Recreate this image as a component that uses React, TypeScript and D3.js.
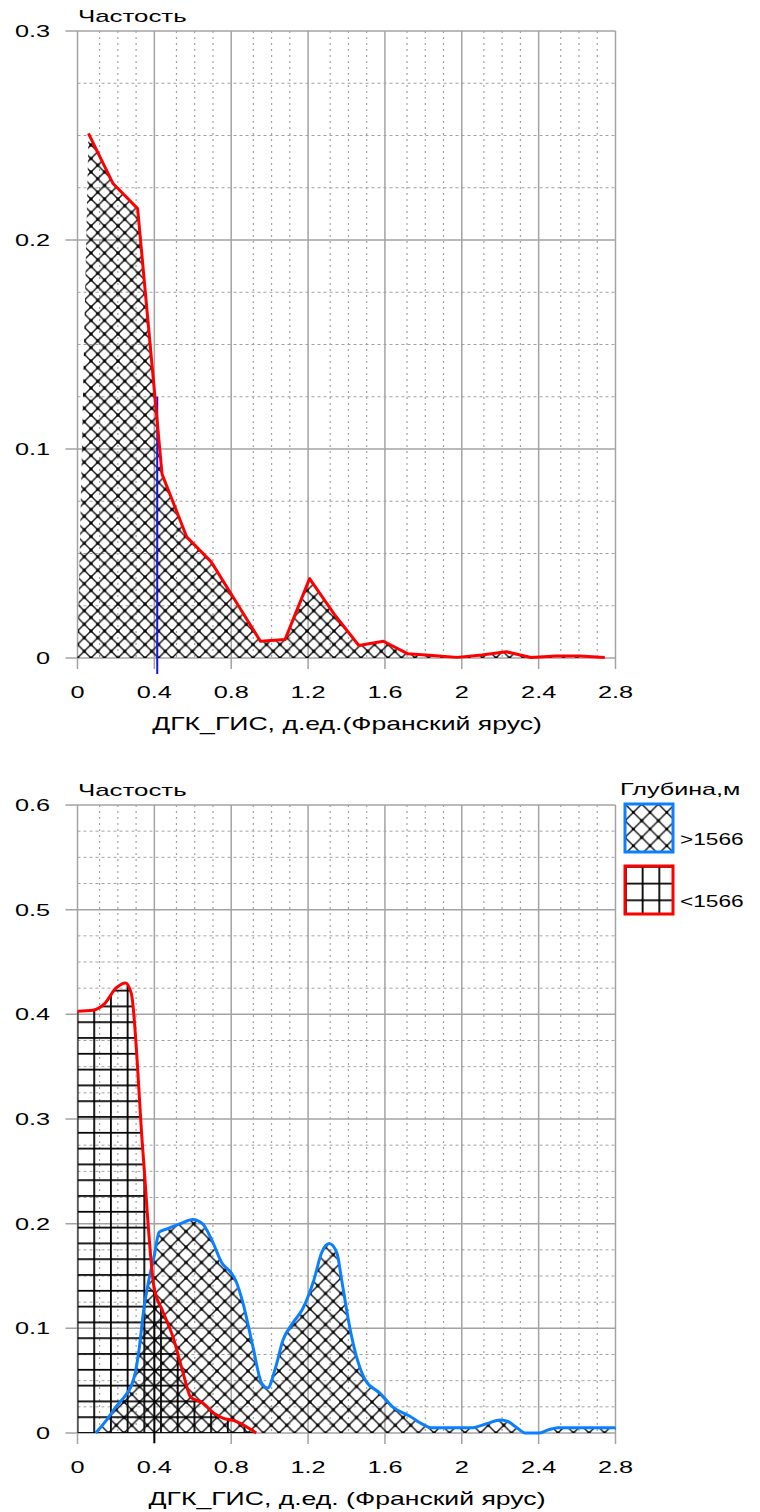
import { useEffect, useRef } from "react";
import * as d3 from "d3";

// axis ticks
const xTicks = [0, 0.4, 0.8, 1.2, 1.6, 2, 2.4, 2.8];
const xTickLabels = ["0", "0.4", "0.8", "1.2", "1.6", "2", "2.4", "2.8"];
const xMinorOffsets = [0.115, 0.21, 0.305];
const yTopTicks = [0, 0.1, 0.2, 0.3];
const yTopLabels = ["0", "0.1", "0.2", "0.3"];
const yBotTicks = [0, 0.1, 0.2, 0.3, 0.4, 0.5, 0.6];
const yBotLabels = ["0", "0.1", "0.2", "0.3", "0.4", "0.5", "0.6"];

// top chart: whole frasnian stage
const topX = [0.057, 0.185, 0.313, 0.44, 0.568, 0.696, 0.824, 0.952, 1.08, 1.208, 1.336, 1.464, 1.592, 1.72, 1.848, 1.976, 2.104, 2.232, 2.36, 2.488, 2.616, 2.744];
const topFreq = [0.251, 0.227, 0.215, 0.088, 0.058, 0.046, 0.027, 0.008, 0.0088, 0.038, 0.021, 0.006, 0.008, 0.002, 0.0012, 0.0003, 0.0014, 0.003, 0.0002, 0.001, 0.001, 0.0002];
const topCutoff = 0.415;
const topCutoffFreq = 0.125;

// bottom chart: depth > 1566 m
const deepX = [0.095, 0.15, 0.2, 0.25, 0.28, 0.3, 0.32, 0.345, 0.37, 0.4, 0.425, 0.465, 0.535, 0.6, 0.65, 0.7, 0.75, 0.8, 0.825, 0.86, 0.91, 0.96, 0.99, 1.03, 1.07, 1.12, 1.17, 1.23, 1.27, 1.31, 1.35, 1.375, 1.42, 1.46, 1.5, 1.575, 1.64, 1.73, 1.8, 1.84, 2.05, 2.13, 2.2, 2.24, 2.28, 2.33, 2.4, 2.45, 2.5, 2.8];
const deepFreq = [0, 0.012, 0.025, 0.036, 0.045, 0.057, 0.079, 0.118, 0.145, 0.17, 0.192, 0.195, 0.2, 0.204, 0.2, 0.184, 0.163, 0.153, 0.145, 0.125, 0.085, 0.047, 0.043, 0.062, 0.089, 0.105, 0.118, 0.146, 0.172, 0.181, 0.172, 0.146, 0.098, 0.068, 0.05, 0.038, 0.025, 0.016, 0.008, 0.005, 0.005, 0.009, 0.0125, 0.011, 0.006, 0, 0, 0.003, 0.005, 0.005];

// bottom chart: depth < 1566 m
const shallowX = [0, 0.08, 0.14, 0.2, 0.25, 0.28, 0.34, 0.4, 0.44, 0.5, 0.55, 0.59, 0.65, 0.71, 0.76, 0.81, 0.85, 0.93];
const shallowFreq = [0.403, 0.404, 0.41, 0.425, 0.43, 0.42, 0.27, 0.137, 0.118, 0.09, 0.057, 0.034, 0.029, 0.019, 0.014, 0.012, 0.009, 0];
const botCutoff = 0.4;
const botCutoffFreq = 0.14;

const legendTitle = "Глубина,м";
const legendItems = [">1566", "<1566"];

const FONT = "'Liberation Sans', Arial, sans-serif";
const GRID = "#a3a3a3";
const RED = "#ff0000";
const BLUE = "#0a80ff";

function App() {
  const ref = useRef<SVGSVGElement>(null);

  useEffect(() => {
    const svg = d3.select(ref.current);
    svg.selectAll("*").remove();

    const left = 77.5, right = 615.5;
    const x = d3.scaleLinear().domain([0, 2.8]).range([left, right]);
    const yTop = d3.scaleLinear().domain([0, 0.3]).range([658, 31]);
    const yBot = d3.scaleLinear().domain([0, 0.6]).range([1433, 805]);

    const defs = svg.append("defs");

    const addCross = (id: string, s: number, ox: number, oy: number) => {
      const p = defs.append("pattern").attr("id", id)
        .attr("patternUnits", "userSpaceOnUse")
        .attr("width", s).attr("height", s).attr("x", ox).attr("y", oy);
      p.append("path")
        .attr("d", `M0,0L${s},${s}M${s},0L0,${s}`)
        .attr("stroke", "#111").attr("stroke-width", 1.4).attr("fill", "none");
      [[0, 0], [s, 0], [0, s], [s, s], [s / 2, s / 2]].forEach(([cx, cy]) => {
        p.append("rect").attr("x", cx - 1.5).attr("y", cy - 1.5)
          .attr("width", 3).attr("height", 3).attr("fill", "#000");
      });
    };
    const addGrid = (id: string, w: number, h: number, ox: number, oy: number) => {
      const p = defs.append("pattern").attr("id", id)
        .attr("patternUnits", "userSpaceOnUse")
        .attr("width", w).attr("height", h).attr("x", ox).attr("y", oy);
      p.append("path")
        .attr("d", `M0.9,0V${h}M0,0.9H${w}`)
        .attr("stroke", "#000").attr("stroke-width", 1.8).attr("fill", "none");
    };
    addCross("crossTop", 13.5, left, 658);
    addCross("crossBot", 15.5, left, 1433);
    addCross("crossLeg", 16.7, 625, 804);
    addGrid("gridBot", 16.7, 15.8, left - 0.9, 1433 - 0.9);
    addGrid("gridLeg", 16.7, 16.7, 625, 866);

    const label = (g: any, txt: string, tx: number, ty: number, size: number, sx: number, anchor: string) => {
      g.append("text")
        .attr("transform", `translate(${tx},${ty}) scale(${sx},1)`)
        .attr("text-anchor", anchor)
        .attr("font-family", FONT)
        .attr("font-size", size)
        .attr("fill", "#000")
        .text(txt);
    };

    const drawFrame = (y: d3.ScaleLinear<number, number>, yTicks: number[], yLabels: string[], title: string) => {
      const g = svg.append("g");
      const [y0, y1] = y.range();
      const top = y1, bottom = y0;
      const yMax = y.domain()[1];

      // minor horizontal dotted lines
      const minorY = d3.range(0, Math.round(yMax / 0.025) + 1)
        .map(i => i * 0.025)
        .filter(v => Math.round(v / 0.025) % 4 !== 0);
      g.selectAll("line.hminor").data(minorY).join("line")
        .attr("x1", left).attr("x2", right)
        .attr("y1", d => y(d)).attr("y2", d => y(d))
        .attr("stroke", GRID).attr("stroke-width", 1).attr("stroke-dasharray", "3,3");

      // minor vertical dotted lines
      const minorX = xTicks.slice(0, -1).flatMap(t => xMinorOffsets.map(o => t + o));
      g.selectAll("line.vminor").data(minorX).join("line")
        .attr("x1", d => x(d)).attr("x2", d => x(d))
        .attr("y1", top).attr("y2", bottom)
        .attr("stroke", GRID).attr("stroke-width", 1.2).attr("stroke-dasharray", "2,4");

      // major grid + ticks
      g.selectAll("line.hmajor").data(yTicks).join("line")
        .attr("x1", left - 12).attr("x2", right)
        .attr("y1", d => y(d)).attr("y2", d => y(d))
        .attr("stroke", GRID).attr("stroke-width", 1.5);
      g.selectAll("line.vmajor").data(xTicks).join("line")
        .attr("x1", d => x(d)).attr("x2", d => x(d))
        .attr("y1", top).attr("y2", bottom + 11)
        .attr("stroke", GRID).attr("stroke-width", 1.5);

      // tick labels
      yTicks.forEach((t, i) => label(g, yLabels[i], 50, y(t) + 6, 16, 1.58, "end"));
      xTicks.forEach((t, i) => label(g, xTickLabels[i], x(t), bottom + 40, 16, 1.58, "middle"));

      label(g, "Частость", 78, top - 9, 17, 1.52, "start");
      label(g, title, 347, bottom + 72, 19, 1.4, "middle");
    };

    // ---- top chart ----
    drawFrame(yTop, yTopTicks, yTopLabels, "ДГК_ГИС, д.ед.(Франский ярус)");

    const topPts: [number, number][] = topX.map((v, i) => [v, topFreq[i]]);
    const topArea = d3.area<[number, number]>()
      .x(d => x(d[0])).y0(yTop(0)).y1(d => yTop(d[1]));
    svg.append("path")
      .datum([[0, 0] as [number, number], ...topPts, [topX[topX.length - 1], 0] as [number, number]])
      .attr("d", topArea)
      .attr("fill", "url(#crossTop)");

    svg.append("line")
      .attr("x1", x(topCutoff)).attr("x2", x(topCutoff))
      .attr("y1", yTop(topCutoffFreq)).attr("y2", yTop(0) + 16)
      .attr("stroke", "#1414f0").attr("stroke-width", 2);

    svg.append("path")
      .datum(topPts)
      .attr("d", d3.line<[number, number]>().x(d => x(d[0])).y(d => yTop(d[1])))
      .attr("fill", "none").attr("stroke", RED).attr("stroke-width", 3)
      .attr("stroke-linejoin", "round");

    // ---- bottom chart ----
    drawFrame(yBot, yBotTicks, yBotLabels, "ДГК_ГИС, д.ед. (Франский ярус)");

    const shallowPts: [number, number][] = shallowX.map((v, i) => [v, shallowFreq[i]]);
    const deepPts: [number, number][] = deepX.map((v, i) => [v, deepFreq[i]]);
    const botArea = d3.area<[number, number]>()
      .x(d => x(d[0])).y0(yBot(0)).y1(d => yBot(d[1]))
      .curve(d3.curveMonotoneX);
    const botLine = d3.line<[number, number]>()
      .x(d => x(d[0])).y(d => yBot(d[1]))
      .curve(d3.curveMonotoneX);

    svg.append("path").datum(shallowPts).attr("d", botArea).attr("fill", "url(#gridBot)");
    svg.append("path").datum(deepPts).attr("d", botArea).attr("fill", "url(#crossBot)");

    svg.append("line")
      .attr("x1", x(botCutoff)).attr("x2", x(botCutoff))
      .attr("y1", yBot(botCutoffFreq)).attr("y2", yBot(0) + 10)
      .attr("stroke", "#000").attr("stroke-width", 2);

    svg.append("path").datum(deepPts).attr("d", botLine)
      .attr("fill", "none").attr("stroke", BLUE).attr("stroke-width", 3);
    svg.append("path").datum(shallowPts).attr("d", botLine)
      .attr("fill", "none").attr("stroke", RED).attr("stroke-width", 3);

    // legend
    const leg = svg.append("g");
    label(leg, legendTitle, 620, 795, 17, 1.48, "start");
    const boxes = [
      { y: 804, fill: "url(#crossLeg)", stroke: BLUE },
      { y: 866, fill: "url(#gridLeg)", stroke: RED },
    ];
    boxes.forEach((b, i) => {
      leg.append("rect").attr("x", 625).attr("y", b.y).attr("width", 48).attr("height", 48)
        .attr("fill", "#fff");
      leg.append("rect").attr("x", 625).attr("y", b.y).attr("width", 48).attr("height", 48)
        .attr("fill", b.fill).attr("stroke", b.stroke).attr("stroke-width", 3);
      label(leg, legendItems[i], 680, b.y + 41, 16, 1.42, "start");
    });
  }, []);

  return (
    <svg
      ref={ref}
      width={760}
      height={1512}
      style={{ position: "absolute", left: 0, top: 0, background: "#fff" }}
    />
  );
}

export default App;
